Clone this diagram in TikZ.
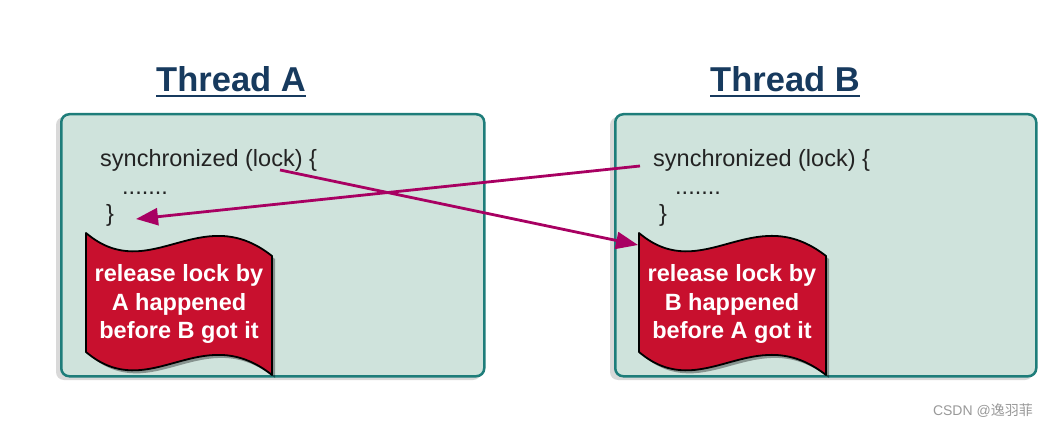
\documentclass[tikz,border=0pt]{standalone}
\usepackage{fontspec}
\setmainfont{Liberation Sans}
\newfontfamily\cjkfont{Noto Sans CJK SC}
\usetikzlibrary{arrows.meta}
\definecolor{boxfill}{RGB}{207,227,220}
\definecolor{boxline}{RGB}{30,125,122}
\definecolor{titlecol}{RGB}{23,58,94}
\definecolor{flagfill}{RGB}{200,16,46}
\definecolor{arrowcol}{RGB}{168,0,98}
\definecolor{codecol}{RGB}{35,35,35}
\tikzset{
  threadbox/.style={draw=boxline, line width=2.5pt, fill=boxfill, rounded corners=8pt},
  boxshadow/.style={fill=black, opacity=0.15, rounded corners=8pt},
  flagshape/.style={draw=black, line width=1.8pt, fill=flagfill, line join=round},
  flagshadow/.style={fill=black, opacity=0.35},
  titletext/.style={inner sep=0pt, anchor=base, text=titlecol, font=\fontsize{34.5}{38}\selectfont\bfseries},
  codetext/.style={inner sep=0pt, anchor=base west, text=codecol, font=\fontsize{23.5}{27.5}\selectfont},
  flagtext/.style={inner sep=0pt, align=center, text=white, font=\fontsize{23.5}{28.5}\selectfont\bfseries},
  syncarrow/.style={draw=arrowcol, line width=2.8pt, -{Triangle[length=22pt,width=17pt]}},
  underl/.style={draw=titlecol, line width=2.5pt}
}
\begin{document}
\begin{tikzpicture}[x=1pt,y=-1pt]
\useasboundingbox (0,0) rectangle (1049,427);
\fill[white] (0,0) rectangle (1049,427);

% ---------- Thread A ----------
\node[titletext] (titleA) at (231,92) {Thread A};
\draw[underl] ([yshift=-4pt]titleA.base west) -- ([yshift=-4pt]titleA.base east);
\fill[boxshadow] (56,117) rectangle (481,380);
\node[threadbox, minimum width=423pt, minimum height=262pt, anchor=north west, inner sep=0pt] (boxA) at (60,113) {};
\node[codetext] (syncA) at (100,167) {synchronized (lock) \{};
\node[codetext] (dotsA) at (122,195) {.......};
\node[codetext] (closeA) at (106,222) {\}};

\fill[flagshadow] (89,236) .. controls (153,290) and (203,202) .. (275,259) -- (275,378)
  .. controls (203,321) and (153,409) .. (89,355) -- cycle;
\draw[flagshape] (86,233) .. controls (150,287) and (200,199) .. (272,256) -- (272,375)
  .. controls (200,318) and (150,406) .. (86,352) -- cycle;
\node[flagtext] (flagA) at (179,304) {release lock by\\A happened\\before B got it};

% ---------- Thread B ----------
\node[titletext] (titleB) at (785,92) {Thread B};
\draw[underl] ([yshift=-4pt]titleB.base west) -- ([yshift=-4pt]titleB.base east);
\fill[boxshadow] (610,117) rectangle (1033,380);
\node[threadbox, minimum width=421pt, minimum height=262pt, anchor=north west, inner sep=0pt] (boxB) at (614,113) {};
\node[codetext] (syncB) at (653,167) {synchronized (lock) \{};
\node[codetext] (dotsB) at (675,195) {.......};
\node[codetext] (closeB) at (659,222) {\}};

\fill[flagshadow] (642,236) .. controls (706,290) and (756,202) .. (829,259) -- (829,378)
  .. controls (756,321) and (706,409) .. (642,355) -- cycle;
\draw[flagshape] (639,233) .. controls (703,287) and (753,199) .. (826,256) -- (826,375)
  .. controls (753,318) and (703,406) .. (639,352) -- cycle;
\node[flagtext] (flagB) at (732,304) {release lock by\\B happened\\before A got it};

% ---------- connectors ----------
\coordinate (lockA) at (280,170);
\coordinate (flagBin) at (638,245);
\coordinate (syncBout) at (640,166);
\coordinate (closeAin) at (136,219);
\draw[syncarrow] (lockA) -- (flagBin);
\draw[syncarrow] (syncBout) -- (closeAin);

% ---------- watermark ----------
\node[inner sep=0pt, anchor=base east, text=black!40, font=\fontsize{14}{16}\selectfont] (wm) at (1033,415) {CSDN @{\cjkfont 逸羽菲}};
\end{tikzpicture}
\end{document}
